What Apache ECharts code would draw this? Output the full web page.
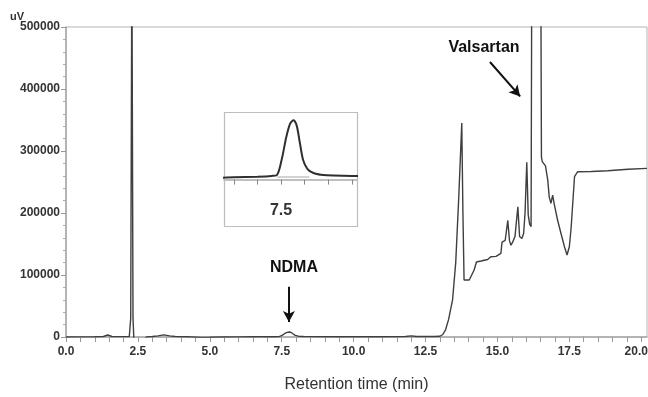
<!DOCTYPE html>
<html>
<head>
<meta charset="utf-8">
<script src="https://cdn.jsdelivr.net/npm/echarts@6/dist/echarts.min.js"></script>
<style>
  html, body { margin: 0; padding: 0; background: #fff; }
  #chart { width: 648px; height: 397px; }
</style>
</head>
<body>
<div id="chart"></div>
<script>
// chromatogram: time (min) / signal (uV)
const retentionTime = [
  0.0, 0.5, 1.0, 1.3, 1.45, 1.6, 2.0, 2.2, 2.25, 2.29, 2.33, 2.37, 2.5, 2.7, 2.8,
  3.0, 3.2, 3.4, 3.6, 3.8, 4.2, 4.7, 5.0, 5.5, 6.0, 6.5, 7.0, 7.3,
  7.41, 7.51, 7.61, 7.69, 7.76, 7.83, 7.90, 7.97, 8.08, 8.26, 8.47,
  9.0, 10.0, 11.0, 11.8, 12.0, 12.2, 12.8, 13.0, 13.1, 13.2, 13.3,
  13.44, 13.55, 13.66, 13.76, 13.80, 13.84, 13.87, 14.02, 14.19, 14.27,
  14.43, 14.66, 14.77, 14.95, 15.12, 15.16, 15.22, 15.27, 15.36, 15.42,
  15.47, 15.53, 15.61, 15.71, 15.77, 15.85, 15.91, 15.96, 16.02, 16.07,
  16.12, 16.17, 16.20, 16.35, 16.50, 16.53, 16.56, 16.62, 16.67, 16.75,
  16.80, 16.86, 16.92, 16.97, 17.09, 17.21, 17.33, 17.42, 17.50, 17.56,
  17.68, 17.79, 18.26, 18.84, 19.54, 20.2
];
const signal = [
  0, 200, 400, 800, 3200, 800, 600, 800, 30000, 620000, 30000, -15000, -12000, -6000, 200,
  800, 1800, 3500, 1800, 800, 400, -600, -400, 0, 200, 300, 400, 500,
  600, 2600, 5700, 7500, 8000, 7300, 4900, 2600, 1300, 750, 590,
  500, 300, 500, 900, 1800, 900, 700, 1200, 4000, 12000, 28000,
  60000, 120000, 230000, 345000, 200000, 92000, 89000, 92000, 108000, 121000,
  122500, 125000, 129500, 130000, 135000, 153000, 151000, 156000, 188000, 155000,
  148000, 153000, 162000, 210000, 162000, 159000, 167000, 200000, 282000, 197000,
  182000, 178000, 700000, 2000000, 700000, 290000, 283000, 281000, 276000, 253000,
  226000, 215600, 229000, 215600, 188700, 167000, 145600, 132300, 145600, 175000,
  258500, 266600, 267000, 268200, 270500, 272000
];
// integration baseline drawn under the NDMA peak in the inset
const ndmaBaseTime = [7.42, 8.10];
const ndmaBaseSignal = [350, 350];

const xLabelValues = [0, 2.5, 5, 7.5, 10, 12.5, 15, 17.5, 20];
const xTickValues = [
  0, 0.5, 1, 1.5, 2, 2.5, 3, 3.5, 4, 4.5, 5, 5.5, 6, 6.5, 7, 7.5, 8, 8.5, 9, 9.5,
  10, 10.5, 11, 11.5, 12, 12.5, 13, 13.5, 14, 14.5, 15, 15.5, 16, 16.5, 17, 17.5,
  18, 18.5, 19, 19.5, 20
];
const insetTickValues = [6.5, 7, 7.5, 8, 8.5, 9];
const insetLabelValues = [7.5];

const trace = retentionTime.map((t, i) => [t, signal[i]]);
const ndmaBase = ndmaBaseTime.map((t, i) => [t, ndmaBaseSignal[i]]);

const labelFont = {
  color: '#333',
  fontFamily: 'Liberation Sans, Arial, sans-serif',
  fontWeight: 'bold',
  fontSize: 12,
};

const chart = echarts.init(document.getElementById('chart'));

const option = {
  animation: false,
  grid: [
    {
      left: 66, top: 27, right: 1, bottom: 60,
      outerBoundsMode: 'none', containLabel: false,
      show: true, borderColor: '#b4b4b4', borderWidth: 1,
    },
    { left: 224, top: 112, width: 133, height: 78, outerBoundsMode: 'none', containLabel: false },
  ],
  xAxis: [
    {
      type: 'value', gridIndex: 0, min: 0, max: 20.2,
      splitLine: { show: false },
      axisLine: { lineStyle: { color: '#a8a8a8', width: 1.5 } },
      axisTick: { customValues: xTickValues, length: 5, lineStyle: { color: '#999' } },
      axisLabel: {
        ...labelFont, margin: 9,
        customValues: xLabelValues,
        // last label nudged left so it stays inside the canvas
        formatter: v => (v === 20 ? '{last|20.0}' : v.toFixed(1)),
        rich: {
          last: { ...labelFont, padding: [0, 10, 0, 0] },
        },
      },
      name: 'Retention time (min)',
      nameLocation: 'middle',
      nameGap: 40,
      nameTextStyle: { color: '#333', fontSize: 16, fontFamily: 'Liberation Sans, Arial, sans-serif' },
    },
    {
      type: 'value', gridIndex: 1, min: 6.29, max: 9.11,
      splitLine: { show: false },
      axisLine: { lineStyle: { color: '#aaa', width: 1.5 } },
      axisTick: { customValues: insetTickValues, length: 5, lineStyle: { color: '#888' } },
      axisLabel: {
        ...labelFont, fontSize: 16, margin: 13,
        customValues: insetLabelValues,
        formatter: v => v.toFixed(1),
      },
    },
  ],
  yAxis: [
    {
      type: 'value', gridIndex: 0, min: 0, max: 500000, interval: 100000,
      splitLine: { show: false },
      axisLine: { show: true, lineStyle: { color: '#a8a8a8', width: 1.5 } },
      axisTick: { show: true, length: 5, lineStyle: { color: '#999' } },
      minorTick: { show: true, splitNumber: 5, length: 3, lineStyle: { color: '#aaa' } },
      axisLabel: { ...labelFont, margin: 6, formatter: v => String(v) },
    },
    {
      type: 'value', gridIndex: 1, min: -1400, max: 9100,
      show: false,
    },
  ],
  series: [
    {
      type: 'line', xAxisIndex: 0, yAxisIndex: 0,
      data: trace, showSymbol: false, clip: true,
      lineStyle: { color: '#3f3f3f', width: 1.4 },
      markLine: {
        silent: true,
        symbol: ['none', 'arrow'],
        symbolSize: [9, 11],
        label: { show: false },
        lineStyle: { color: '#111', width: 2, type: 'solid' },
        data: [
          [{ coord: [7.75, 81000] }, { coord: [7.75, 24000] }],
          [{ coord: [14.74, 443500] }, { coord: [15.79, 388000] }],
        ],
      },
    },
    {
      type: 'line', xAxisIndex: 1, yAxisIndex: 1,
      data: ndmaBase, showSymbol: false, clip: true,
      lineStyle: { color: '#c4c4c4', width: 1.5 },
    },
    {
      type: 'line', xAxisIndex: 1, yAxisIndex: 1,
      data: trace, showSymbol: false, clip: true, smooth: 0.3,
      lineStyle: { color: '#2f2f2f', width: 2 },
    },
  ],
  graphic: [
    {
      type: 'rect', silent: true, z: 1,
      shape: { x: 224.5, y: 112.5, width: 133, height: 114 },
      style: { fill: 'none', stroke: '#bdbdbd', lineWidth: 1.2 },
    },
    {
      type: 'text', left: 10, top: 11, silent: true,
      style: { text: 'uV', fill: '#333', font: 'bold 11px "Liberation Sans", Arial, sans-serif' },
    },
    {
      type: 'text', x: 294, y: 268, silent: true,
      style: {
        text: 'NDMA', fill: '#111', align: 'center', verticalAlign: 'middle',
        font: 'bold 16px "Liberation Sans", Arial, sans-serif',
      },
    },
    {
      type: 'text', x: 484, y: 47.5, silent: true,
      style: {
        text: 'Valsartan', fill: '#111', align: 'center', verticalAlign: 'middle',
        font: 'bold 16px "Liberation Sans", Arial, sans-serif',
      },
    },
  ],
};

chart.setOption(option);
</script>
</body>
</html>
